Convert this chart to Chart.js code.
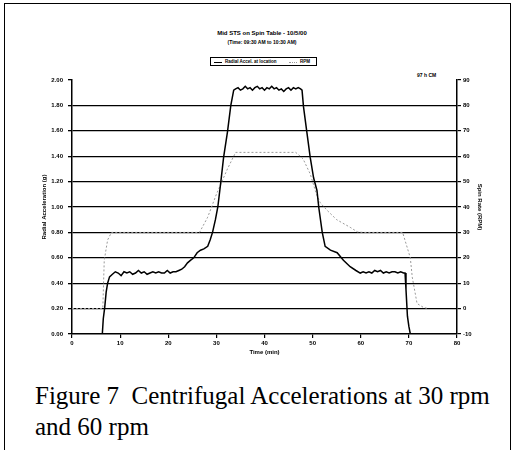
<!DOCTYPE html>
<html>
<head>
<meta charset="utf-8">
<script src="https://cdn.jsdelivr.net/npm/chart.js@4.4.0/dist/chart.umd.min.js"></script>
<style>
    body { margin: 0; background: #fff; width: 518px; height: 450px; overflow: hidden; position: relative; font-family: "Liberation Sans", Arial, sans-serif; }
    #frame { position: absolute; left: 4px; top: 3px; width: 507px; height: 470px; border: 1.5px solid #000; box-sizing: border-box; }
    #wrap { position: absolute; left: 0; top: 0; width: 518px; height: 360px; }
    .title { position: absolute; left: 200px; width: 124px; text-align: center; font-weight: bold; color: #000; white-space: nowrap; }
    #legend { position: absolute; left: 210px; top: 57px; width: 107px; height: 9px; border: 1px solid #000; box-sizing: border-box; font-size: 4.5px; font-weight: bold; }
    #legend span { position: absolute; top: 1px; white-space: nowrap; }
    #legend i { position: absolute; top: 3.5px; height: 0; display: block; }
    #note { position: absolute; left: 417px; top: 72px; font-size: 5px; font-weight: bold; }
    #caption { position: absolute; left: 35px; top: 380px; font-family: "Liberation Serif", "Times New Roman", serif; font-size: 25px; line-height: 31px; color: #000; white-space: nowrap; }
</style>
</head>
<body>
<div id="frame"></div>
<div class="title" style="top:30px;font-size:6px;">Mid STS on Spin Table - 10/5/00</div>
<div class="title" style="top:39px;font-size:5px;">(Time: 09:30 AM to 10:30 AM)</div>
<div id="legend">
    <i style="left:3px;width:8px;border-top:1px solid #000;"></i>
    <span style="left:14px;">Radial Accel. at location</span>
    <i style="left:78px;width:8px;border-top:1px dotted #999;"></i>
    <span style="left:89px;">RPM</span>
</div>
<div id="note">97 h CM</div>
<div id="wrap"><canvas id="chart" width="518" height="360"></canvas></div>
<div id="caption">Figure 7&nbsp; Centrifugal Accelerations at 30 rpm<br>and 60 rpm</div>

<script>
// Acceleration trace (left axis, g) vs time (min)
const accTime = [
    0, 6.3, 6.5, 6.8, 7.1, 7.4, 7.8, 8.4, 9.0, 9.6, 10.2, 10.8, 11.4, 12.0, 12.6, 13.2, 13.8, 14.4,
    15.0, 15.6, 16.2, 16.8, 17.4, 18.0, 18.6, 19.2, 19.8, 20.4, 21.0, 21.6, 22.2, 22.8, 23.4, 24.0, 24.6,
    25.3, 26.0, 26.7, 27.4, 28.2, 28.7, 29.2, 29.8, 30.3, 30.9, 31.5, 32.3, 33.0, 33.6,
    34.0, 34.5, 35.0, 35.5, 36.0, 36.5, 37.0, 37.5, 38.0, 38.5, 39.0, 39.5, 40.0, 40.5, 41.0, 41.5,
    42.0, 42.5, 43.0, 43.5, 44.0, 44.5, 45.0, 45.5, 46.0, 46.5, 47.0, 47.5, 47.8,
    48.1, 48.8, 49.5, 50.2, 50.9, 51.3, 52.0, 52.6, 53.7, 55.1, 56.4, 57.8, 59.0, 59.9,
    60.5, 61.1, 61.7, 62.3, 62.9, 63.5, 64.1, 64.7, 65.3, 65.9, 66.5, 67.1, 67.7, 68.3, 68.9, 69.2,
    69.4, 69.7, 70.0, 70.3, 80
];
const accValues = [
    0, 0, 0.12, 0.21, 0.33, 0.40, 0.45, 0.47, 0.49, 0.48, 0.46, 0.49, 0.48, 0.49, 0.47, 0.48, 0.50, 0.48,
    0.49, 0.47, 0.48, 0.49, 0.48, 0.49, 0.48, 0.48, 0.50, 0.48, 0.49, 0.49, 0.50, 0.51, 0.53, 0.56, 0.58,
    0.60, 0.64, 0.66, 0.67, 0.69, 0.74, 0.80, 0.90, 1.00, 1.19, 1.39, 1.59, 1.80, 1.92,
    1.93, 1.94, 1.92, 1.93, 1.95, 1.93, 1.94, 1.92, 1.94, 1.95, 1.93, 1.94, 1.92, 1.94, 1.93, 1.95,
    1.93, 1.94, 1.92, 1.93, 1.91, 1.93, 1.94, 1.92, 1.94, 1.93, 1.94, 1.93, 1.92,
    1.79, 1.59, 1.39, 1.23, 1.13, 0.99, 0.80, 0.69, 0.66, 0.64, 0.58, 0.53, 0.50, 0.48,
    0.49, 0.48, 0.49, 0.48, 0.50, 0.49, 0.50, 0.48, 0.49, 0.48, 0.49, 0.49, 0.48, 0.49, 0.48, 0.48,
    0.35, 0.14, 0.06, 0, 0
];

// Spin rate trace (right axis, rpm) vs time (min)
const rpmTime = [0, 6.4, 6.7, 7.4, 8.2, 26.5, 28.2, 30.0, 32.3, 34.0, 46.5, 48.0, 49.5, 50.8, 51.6, 53.0, 55.0, 57.8, 59.3, 60.5, 68.7, 70.3, 70.7, 71.7, 73.0, 74.0];
const rpmValues = [0, 0, 19, 27, 30, 30, 36, 45, 55, 61.5, 61.5, 59, 53, 45, 41.6, 38.7, 35, 32, 30.2, 30, 30, 20, 12.4, 2, 0.5, 0];

// Axis ranges and tick steps
const timeRange = [0, 80];
const timeStep = 10;
const accRange = [0, 2];
const accStep = 0.2;
const rpmRange = [-10, 90];
const rpmStep = 10;

const tickFont = { family: 'Liberation Sans', size: 6, weight: 'bold' };

const ctx = document.getElementById('chart');
new Chart(ctx, {
    type: 'line',
    data: {
        datasets: [
            {
                label: 'Radial Accel. at location',
                data: accTime.map((t, i) => ({ x: t, y: accValues[i] })),
                yAxisID: 'y',
                borderColor: '#000',
                borderWidth: 1.5,
                pointRadius: 0,
                tension: 0
            },
            {
                label: 'RPM',
                data: rpmTime.map((t, i) => ({ x: t, y: rpmValues[i] })),
                yAxisID: 'y1',
                borderColor: '#999',
                borderWidth: 1,
                borderDash: [2, 2],
                pointRadius: 0,
                tension: 0
            }
        ]
    },
    options: {
        responsive: false,
        animation: false,
        layout: { padding: { left: 0, right: 0, top: 80, bottom: 0 } },
        plugins: {
            legend: { display: false },
            title: { display: false },
            tooltip: { enabled: false }
        },
        scales: {
            x: {
                type: 'linear',
                min: timeRange[0],
                max: timeRange[1],
                ticks: { stepSize: timeStep, font: tickFont, color: '#000', padding: 2, maxRotation: 0 },
                grid: { drawOnChartArea: false, tickLength: 4, color: '#000', lineWidth: 1.2 },
                border: { color: '#000', width: 1.5 },
                title: { display: true, text: 'Time (min)', font: tickFont, color: '#000', padding: { top: 0, bottom: 4 } },
                afterFit: s => { s.height = 26; }
            },
            y: {
                position: 'left',
                min: accRange[0],
                max: accRange[1],
                ticks: { stepSize: accStep, font: tickFont, color: '#000', padding: 5, callback: v => v.toFixed(2) },
                grid: {
                    color: c => (c.tick && c.tick.value > accRange[0] + 0.001 && c.tick.value < accRange[1] - 0.001) ? '#000' : 'rgba(0,0,0,0)',
                    tickColor: '#000',
                    tickLength: 4,
                    lineWidth: 1.3
                },
                border: { color: '#000', width: 1.5 },
                title: { display: true, text: 'Radial Acceleration (g)', font: tickFont, color: '#000', padding: { top: 41, bottom: 0 } },
                afterFit: s => { s.width = 72; }
            },
            y1: {
                position: 'right',
                min: rpmRange[0],
                max: rpmRange[1],
                ticks: { stepSize: rpmStep, font: tickFont, color: '#000', padding: 2 },
                grid: { drawOnChartArea: false, tickLength: 4, color: '#000', lineWidth: 1.2 },
                border: { color: '#000', width: 1.5 },
                title: { display: true, text: 'Spin Rate (RPM)', font: tickFont, color: '#000', padding: { top: 35, bottom: 0 } },
                afterFit: s => { s.width = 61; }
            }
        }
    }
});
</script>
</body>
</html>
